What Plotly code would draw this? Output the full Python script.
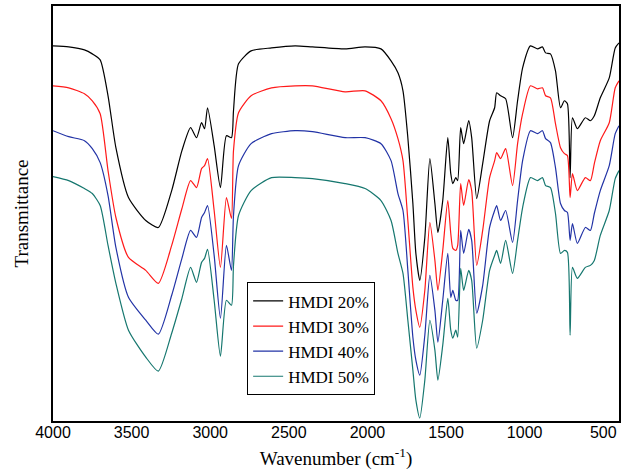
import plotly.graph_objects as go

wavenumber = [4000, 3900, 3800, 3750, 3700, 3650, 3600, 3520, 3410, 3330, 3245, 3180, 3125, 3087,
              3055, 3036, 3017, 2975, 2935, 2897, 2865, 2852, 2820, 2740, 2610, 2460, 2350, 2142,
              2015, 1914, 1850, 1806, 1774, 1743, 1711, 1692, 1667, 1635, 1603, 1571, 1552, 1521,
              1489, 1470, 1457, 1438, 1426, 1407, 1388, 1356, 1337, 1305, 1267, 1223, 1191, 1178,
              1153, 1121, 1077, 1045, 1013, 963, 918, 887, 867, 836, 804, 772, 747, 728, 711, 696,
              665, 614, 582, 557, 519, 462, 424, 400]

hmdi_20 = [376, 375, 372, 368, 362, 326, 274, 224, 201, 194, 231, 271, 294, 284,
           299, 293, 314, 276, 234, 286, 284, 311, 358, 371, 374, 376, 375, 373,
           375, 373, 361, 349, 331, 284, 218, 168, 141, 184, 263, 218, 189, 221,
           284, 248, 238, 244, 241, 294, 278, 301, 284, 223, 258, 301, 314, 329,
           326, 323, 284, 321, 354, 376, 373, 375, 369, 368, 351, 314, 321, 318, 244, 304,
           293, 304, 301, 306, 324, 344, 374, 379]

hmdi_30 = [336, 334, 328, 321, 308, 251, 204, 164, 151, 138, 176, 213, 241, 234,
           253, 256, 263, 211, 154, 224, 203, 271, 309, 326, 334, 336, 336, 330,
           331, 321, 303, 283, 261, 201, 134, 111, 94, 131, 199, 161, 131, 171,
           221, 188, 173, 171, 176, 238, 216, 242, 231, 156, 191, 244, 261, 269,
           263, 273, 236, 278, 308, 336, 333, 334, 326, 324, 298, 274, 268, 266, 224, 248,
           231, 244, 241, 258, 281, 299, 334, 341]

hmdi_40 = [291, 285, 281, 273, 259, 226, 174, 124, 101, 87, 126, 163, 191, 184,
           204, 209, 216, 166, 103, 176, 151, 206, 256, 278, 288, 291, 290, 284,
           284, 278, 261, 228, 211, 151, 84, 61, 46, 86, 146, 111, 79, 121,
           168, 124, 131, 121, 121, 191, 168, 192, 181, 108, 136, 194, 211, 216,
           201, 211, 179, 221, 261, 291, 288, 291, 283, 279, 254, 218, 211, 209, 181, 198,
           178, 194, 191, 208, 231, 256, 288, 296]

hmdi_50 = [245, 241, 233, 228, 216, 176, 138, 91, 64, 50, 88, 123, 154, 139,
           159, 163, 172, 121, 65, 121, 116, 156, 206, 231, 244, 244, 243, 238,
           233, 221, 201, 168, 148, 101, 51, 21, 3, 41, 101, 71, 41, 76,
           123, 91, 83, 91, 84, 153, 131, 151, 141, 73, 101, 151, 166, 171,
           158, 181, 148, 181, 214, 244, 241, 244, 236, 234, 208, 168, 171, 169, 86, 154,
           143, 154, 156, 161, 186, 211, 243, 251]

series_names = ["HMDI 20%", "HMDI 30%", "HMDI 40%", "HMDI 50%"]
series_values = [hmdi_20, hmdi_30, hmdi_40, hmdi_50]
series_colors = ["#000000", "#ff1a1a", "#2233a6", "#16776f"]

tick_values = [4000, 3500, 3000, 2500, 2000, 1500, 1000, 500]

fig = go.Figure()
for name, vals, col in zip(series_names, series_values, series_colors):
    fig.add_trace(go.Scatter(x=wavenumber, y=vals, mode="lines", name=name,
                             line=dict(color=col, width=1.2, shape="spline", smoothing=0.6)))

fig.update_layout(
    width=625, height=473,
    margin=dict(l=53, r=4, t=5, b=52),
    paper_bgcolor="white", plot_bgcolor="white",
    showlegend=True,
    legend=dict(x=0.343, y=0.334, xanchor="left", yanchor="top",
                bordercolor="black", borderwidth=1, bgcolor="white",
                font=dict(family="Liberation Serif, Times New Roman, serif", size=17, color="black"),
                tracegroupgap=0),
)
fig.update_xaxes(range=[4000, 400], tickvals=tick_values,
                 ticktext=[str(v) for v in tick_values],
                 showgrid=False, zeroline=False, showline=True, linecolor="black",
                 linewidth=1.5, mirror=True, ticks="", ticklabelstandoff=-4,
                 tickfont=dict(family="Liberation Sans, Arial, sans-serif", size=16, color="black"),
                 title=dict(text="Wavenumber (cm<sup>-1</sup>)", standoff=12,
                            font=dict(family="Liberation Serif, Times New Roman, serif", size=19, color="black")))
fig.update_yaxes(range=[0, 416], showticklabels=False, showgrid=False, zeroline=False,
                 showline=True, linecolor="black", linewidth=1.5, mirror=True, ticks="",
                 title=dict(text="Transmittance", standoff=18,
                            font=dict(family="Liberation Serif, Times New Roman, serif", size=19, color="black")))

fig.write_html("out.html", config={"displayModeBar": False},
               post_script="document.body.style.margin='0';")
